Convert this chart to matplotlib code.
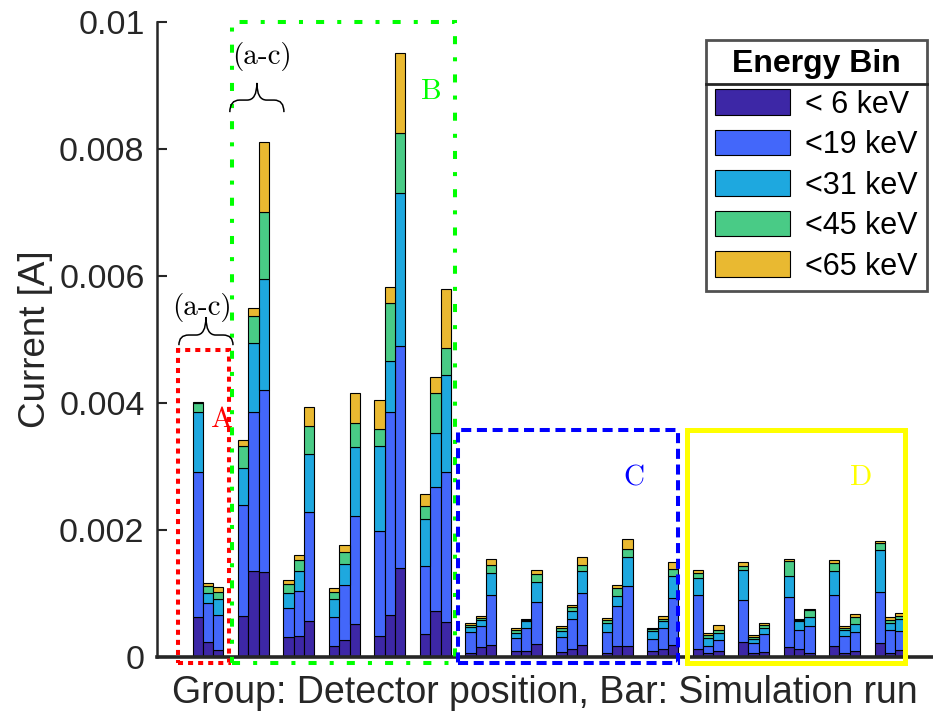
import matplotlib
import numpy as np

matplotlib.use("Agg")
import matplotlib.pyplot as plt  # noqa: E402
from matplotlib.lines import Line2D  # noqa: E402
from matplotlib.patches import PathPatch, Rectangle  # noqa: E402
from matplotlib.path import Path  # noqa: E402

plt.rcParams["font.family"] = ["Liberation Sans", "DejaVu Sans"]

# Cumulative bar tops in mA, 16 detector positions x 3 simulation runs
top_6 = [0.635, 0.23, 0.11, 0.64, 1.35, 1.34, 0.31, 0.33, 0.56, 0.17, 0.27, 0.52,
         0.33, 0.66, 1.40, 0.36, 0.72, 0.55, 0.07, 0.16, 0.19, 0.09, 0.10, 0.20,
         0.08, 0.13, 0.19, 0.07, 0.18, 0.17, 0.09, 0.12, 0.19, 0.12, 0.06, 0.10,
         0.23, 0.07, 0.08, 0.15, 0.12, 0.07, 0.17, 0.06, 0.10, 0.22, 0.07, 0.11]
top_19 = [2.91, 0.85, 0.66, 2.40, 3.86, 4.21, 0.77, 1.04, 2.29, 0.63, 1.13, 2.22,
          1.99, 3.86, 4.90, 1.44, 2.67, 2.92, 0.39, 0.49, 0.98, 0.30, 0.46, 0.87,
          0.32, 0.60, 1.00, 0.40, 0.80, 1.12, 0.29, 0.46, 0.93, 0.98, 0.18, 0.27,
          0.90, 0.22, 0.36, 0.94, 0.43, 0.48, 0.98, 0.33, 0.40, 1.02, 0.43, 0.41]
top_31 = [3.85, 1.00, 0.91, 2.97, 4.94, 5.95, 1.01, 1.36, 3.20, 0.92, 1.46, 3.31,
          3.32, 4.66, 7.30, 2.17, 3.53, 4.44, 0.47, 0.58, 1.33, 0.38, 0.56, 1.18,
          0.41, 0.73, 1.36, 0.54, 0.96, 1.57, 0.41, 0.57, 1.28, 1.25, 0.30, 0.38,
          1.37, 0.29, 0.46, 1.28, 0.56, 0.63, 1.35, 0.43, 0.52, 1.68, 0.53, 0.60]
top_45 = [4.00, 1.11, 1.02, 3.33, 5.37, 7.00, 1.15, 1.52, 3.63, 1.03, 1.66, 3.68,
          3.59, 5.58, 8.25, 2.38, 4.15, 4.87, 0.50, 0.62, 1.45, 0.43, 0.58, 1.30,
          0.45, 0.79, 1.45, 0.58, 1.09, 1.70, 0.44, 0.60, 1.38, 1.33, 0.35, 0.43,
          1.44, 0.32, 0.50, 1.51, 0.58, 0.74, 1.48, 0.45, 0.63, 1.79, 0.58, 0.65]
top_65 = [4.01, 1.17, 1.10, 3.42, 5.50, 8.11, 1.22, 1.61, 3.93, 1.08, 1.77, 4.15,
          4.04, 5.83, 9.51, 2.56, 4.41, 5.80, 0.53, 0.65, 1.55, 0.45, 0.60, 1.37,
          0.48, 0.82, 1.58, 0.62, 1.13, 1.85, 0.46, 0.65, 1.49, 1.37, 0.38, 0.50,
          1.49, 0.35, 0.53, 1.54, 0.60, 0.76, 1.52, 0.48, 0.67, 1.83, 0.63, 0.70]

bin_labels = ["< 6 keV", "<19 keV", "<31 keV", "<45 keV", "<65 keV"]
bin_colors = ["#3D27A6", "#4367FA", "#1EA8DF", "#49CB86", "#E9B931"]
ytick_values = [0, 0.002, 0.004, 0.006, 0.008, 0.01]
ytick_labels = ["0", "0.002", "0.004", "0.006", "0.008", "0.01"]
n_groups = 16
n_runs = 3

tops = np.array([top_6, top_19, top_31, top_45, top_65]) * 1e-3
heights = np.diff(np.vstack([np.zeros(tops.shape[1]), tops]), axis=0)

width = 0.227
groups = np.repeat(np.arange(1, n_groups + 1), n_runs)
offsets = np.tile((np.arange(n_runs) - 1) * width, n_groups)
x = groups + offsets

fig = plt.figure(figsize=(9.33, 7.18), dpi=100)
ax = fig.add_axes([0.1683, 0.085, 0.831, 0.8844])

bottom = np.zeros(len(x))
for h, c, lab in zip(heights, bin_colors, bin_labels):
    ax.bar(x, h, width, bottom=bottom, color=c, edgecolor="black",
           linewidth=0.8, label=lab, zorder=2)
    bottom += h

ax.set_xlim(-0.121, 16.93)
ax.set_ylim(0, 0.01)
ax.set_xticks([])
ax.set_yticks(ytick_values)
ax.set_yticklabels(ytick_labels)
ax.tick_params(axis="y", direction="in", length=7, width=1.5,
               labelsize=24.5, pad=9, colors="#262626")
for s in ["top", "right"]:
    ax.spines[s].set_visible(False)
ax.spines["left"].set_linewidth(1.8)
ax.spines["left"].set_color("#262626")
ax.spines["bottom"].set_linewidth(2.6)
ax.spines["bottom"].set_color("#262626")
ax.spines["bottom"].set_zorder(3)

ax.set_ylabel("Current [A]", fontsize=26.5, color="#262626", labelpad=4)
ax.set_xlabel("Group: Detector position, Bar: Simulation run",
              fontsize=27, color="#262626", labelpad=13)

# Region boxes
boxes = [
    (0.34, 1.46, 0.00483, "#FF0000", (0, (1.25, 1.25)), 2.9, "A", 1.31, 0.00373),
    (1.53, 6.43, 0.01, "#00FF00", (0, (2.0, 3.25, 1.0, 3.25)), 2.9, "B", 5.92, 0.0089),
    (6.49, 11.33, 0.00357, "#0000FF", (0, (2.5, 1.4)), 2.9, "C", 10.36, 0.00282),
    (11.53, 16.32, 0.00357, "#FFFF00", "-", 3.6, "D", 15.37, 0.00282),
]
for x0, x1, y1, col, ls, lw, name, tx, ty in boxes:
    ax.add_patch(Rectangle((x0, -0.0001), x1 - x0, y1 + 0.0001, fill=False,
                           edgecolor=col, linestyle=ls, linewidth=lw,
                           clip_on=False, zorder=4))
    ax.text(tx, ty, name, color=col, fontsize=21, family="cmr10",
            ha="center", va="center", zorder=5)


def brace(x0, x1, y_end, y_mid, y_tip):
    xc = (x0 + x1) / 2
    d = (x1 - x0) * 0.18
    verts = [(x0, y_end), (x0, y_mid), (x0 + d, y_mid), (xc - d, y_mid),
             (xc, y_mid), (xc, y_tip), (xc, y_mid), (xc + d, y_mid),
             (x1 - d, y_mid), (x1, y_mid), (x1, y_end)]
    codes = [Path.MOVETO, Path.CURVE3, Path.CURVE3, Path.LINETO,
             Path.CURVE3, Path.CURVE3, Path.CURVE3, Path.CURVE3,
             Path.LINETO, Path.CURVE3, Path.CURVE3]
    ax.add_patch(PathPatch(Path(verts, codes), fill=False, edgecolor="black",
                           linewidth=1.1, clip_on=False, zorder=5))


brace(0.36, 1.55, 0.00491, 0.00507, 0.00535)
brace(1.48, 2.67, 0.00858, 0.00877, 0.00904)
ax.text(0.87, 0.0055, "(a-c)", fontsize=21, family="cmr10",
        ha="center", va="center")
ax.text(2.19, 0.00945, "(a-c)", fontsize=21, family="cmr10",
        ha="center", va="center")

leg = ax.legend(title="Energy Bin", loc="upper right",
                bbox_to_anchor=(927 / 933, 678 / 718),
                bbox_transform=fig.transFigure, borderaxespad=0,
                fontsize=22, title_fontproperties={"size": 23, "weight": "bold"},
                frameon=True, fancybox=False, edgecolor="#262626",
                handlelength=2.45, handleheight=0.92, handletextpad=0.5,
                labelspacing=0.33, borderpad=0.3)
leg.get_frame().set_linewidth(2.0)
leg.set_zorder(6)

fig.canvas.draw()
renderer = fig.canvas.get_renderer()
frame = leg.get_frame().get_window_extent(renderer)
tb = leg.get_title().get_window_extent(renderer)
t0 = leg.get_texts()[0].get_window_extent(renderer)
ysep = (tb.y0 + t0.y1) / 2
fig.add_artist(Line2D([frame.x0, frame.x1], [ysep, ysep], transform=None,
                      color="#262626", linewidth=2.0, zorder=7))

fig.savefig("out.png", dpi=100)
